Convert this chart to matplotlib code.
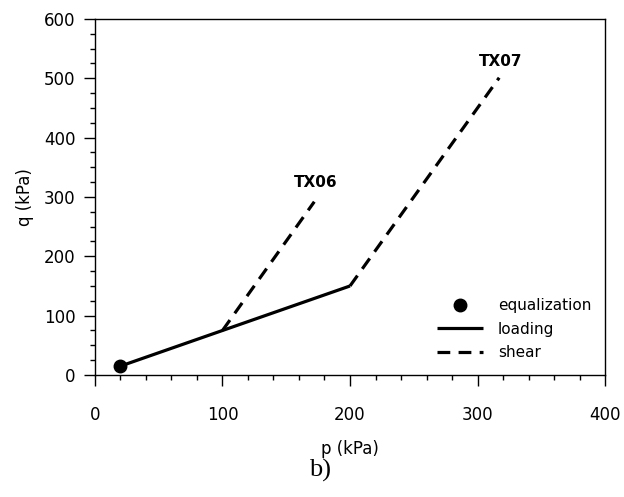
import numpy as np
import matplotlib.pyplot as plt
from matplotlib.ticker import MultipleLocator

# stress paths, p and q in kPa
p_eq = [20]
q_eq = [15]
p_load = [20, 100, 200]
q_load = [15, 75, 150]
p_tx06 = [100, 172]
q_tx06 = [75, 292]
p_tx07 = [200, 317]
q_tx07 = [150, 501]
test_names = ['TX06', 'TX07']
label_p = [173, 318]
label_q = [324, 528]

fig = plt.figure(figsize=(6.24, 4.97), dpi=100)
ax = fig.add_axes([0.1522, 0.2455, 0.8174, 0.7163])

lw = 2.3
ax.plot(p_load, q_load, '-', color='black', lw=lw, solid_capstyle='butt', label='loading', zorder=3)
ax.plot(p_tx06, q_tx06, '--', color='black', lw=lw, dashes=(4, 2.6), label='shear', zorder=2)
ax.plot(p_tx07, q_tx07, '--', color='black', lw=lw, dashes=(4, 2.6), zorder=2)
ax.plot(p_eq, q_eq, 'o', color='black', ms=9, label='equalization', zorder=4)

for name, x, y in zip(test_names, label_p, label_q):
    ax.text(x, y, name, fontsize=11, fontweight='bold', ha='center', va='center')

ax.set_xlim(0, 400)
ax.set_ylim(0, 600)
ax.xaxis.set_major_locator(MultipleLocator(100))
ax.xaxis.set_minor_locator(MultipleLocator(20))
ax.yaxis.set_major_locator(MultipleLocator(100))
ax.yaxis.set_minor_locator(MultipleLocator(25))
ax.tick_params(which='major', direction='out', length=8, width=1, labelsize=12, pad=6)
ax.tick_params(which='minor', direction='out', length=3.5, width=1)
ax.tick_params(axis='x', pad=14)
for s in ax.spines.values():
    s.set_linewidth(1)

ax.set_xlabel('p (kPa)', fontsize=12, labelpad=12)
ax.set_ylabel('q (kPa)', fontsize=12, labelpad=7)

h, l = ax.get_legend_handles_labels()
order = [2, 0, 1]
ax.legend([h[i] for i in order], [l[i] for i in order], frameon=False, fontsize=11,
          loc='lower right', bbox_to_anchor=(1.0, 0.003), handlelength=3.0,
          handletextpad=1.0, labelspacing=0.55)

fig.text(0.513, 0.054, 'b)', fontsize=19, family='Liberation Serif', ha='center', va='center')

fig.savefig('out.png', dpi=100)
